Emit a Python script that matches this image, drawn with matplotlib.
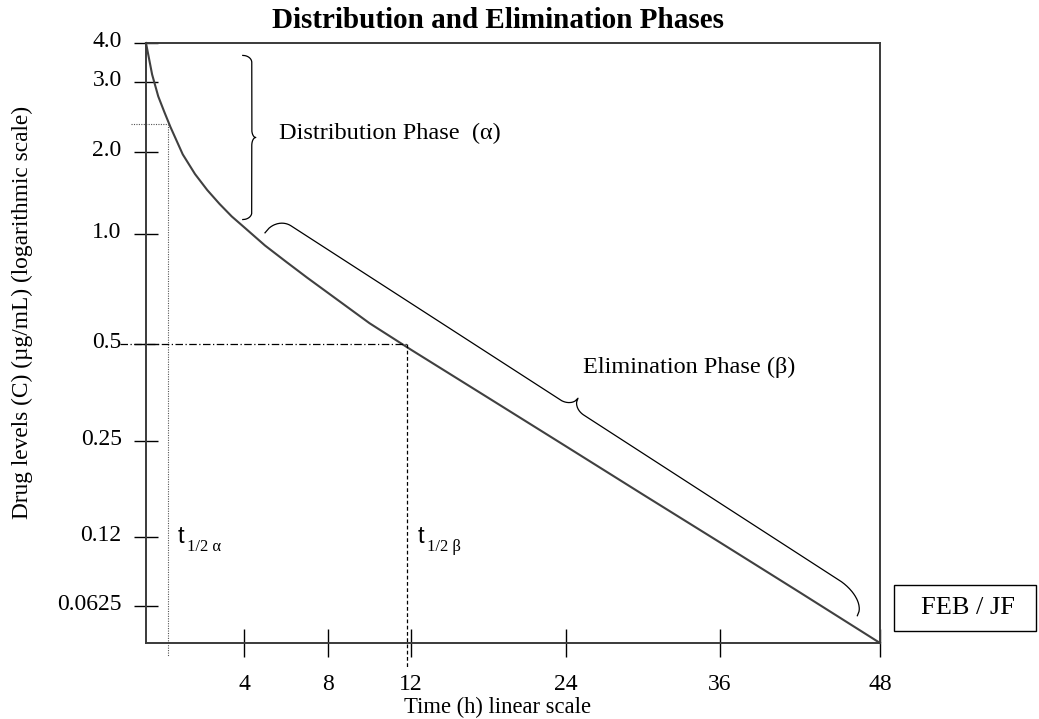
import numpy as np
import matplotlib
matplotlib.use("Agg")
import matplotlib.pyplot as plt
from matplotlib.lines import Line2D
from matplotlib.patches import Rectangle
from matplotlib.transforms import ScaledTranslation

# --- data ---
time_h = [0, 0.25, 0.5, 0.75, 1, 1.5, 2, 2.5, 3, 3.5, 4, 5, 6, 7, 8, 10, 12,
          18, 24, 30, 36, 42, 48]
conc = [4.0, 3.17, 2.76, 2.52, 2.31, 1.96, 1.66, 1.45, 1.29, 1.16, 1.06, 0.93,
        0.84, 0.76, 0.69, 0.57, 0.48, 0.34, 0.24, 0.166, 0.114, 0.071, 0.044]

x_ticks = [4, 8, 12, 24, 36, 48]
x_tick_labels = ["4", "8", "12", "24", "36", "48"]
y_ticks = [4.0, 3.0, 2.0, 1.0, 0.5, 0.25, 0.12, 0.0625]
y_tick_labels = ["4.0", "3.0", "2.0", "1.0", "0.5", "0.25", "0.12", "0.0625"]

t_half_alpha, c_half_alpha = 0.9, 2.35
t_half_beta, c_half_beta = 11.8, 0.5

# the hand drawn axes are not evenly spaced -> piecewise scales (value -> pixel)
X_KNOT_T = [-4, 0, 4, 8, 12, 24, 36, 48, 52]
X_KNOT_PX = [48, 146, 244, 328, 411, 566, 720, 880, 933]
Y_KNOT_C = [0.02, 0.044, 0.0625, 0.12, 0.25, 0.5, 1.0, 2.0, 3.0, 4.0, 6.0]
Y_KNOT_PX = [726, 643, 606, 537, 441, 344, 234, 152, 82, 43, -12]

LOG_C = np.log2(Y_KNOT_C)
NEG_PX = -np.array(Y_KNOT_PX, float)


def fwd_x(t):
    return np.interp(t, X_KNOT_T, X_KNOT_PX)


def inv_x(p):
    return np.interp(p, X_KNOT_PX, X_KNOT_T)


def fwd_y(c):
    c = np.clip(np.asarray(c, float), 1e-9, None)
    return np.interp(np.log2(c), LOG_C, NEG_PX)


def inv_y(p):
    return 2.0 ** np.interp(p, NEG_PX, LOG_C)


W, H = 1039, 719
plt.rcParams['font.family'] = ['Liberation Serif', 'DejaVu Serif']
plt.rcParams['font.size'] = 16

fig = plt.figure(figsize=(W / 100, H / 100), dpi=100, facecolor='white')


def fx(x):
    return x / W


def fy(y):
    return 1 - y / H


ax = fig.add_axes([fx(146), fy(643), (880 - 146) / W, (643 - 43) / H])
ax.set_xscale('function', functions=(fwd_x, inv_x))
ax.set_yscale('function', functions=(fwd_y, inv_y))
ax.set_xlim(0, 48)
ax.set_ylim(0.044, 4.0)

ax.set_xticks(x_ticks)
ax.set_xticklabels(x_tick_labels)
ax.set_yticks(y_ticks)
ax.set_yticklabels(y_tick_labels)
ax.minorticks_off()
ax.tick_params(axis='y', direction='inout', length=17, width=1.0, pad=9, labelsize=17)
ax.tick_params(axis='x', direction='inout', length=20, width=1.0, pad=12, labelsize=17)
for lab in ax.get_yticklabels():
    lab.set_transform(lab.get_transform() + ScaledTranslation(0, 4 / 100, fig.dpi_scale_trans))

for side in ['left', 'right', 'top', 'bottom']:
    ax.spines[side].set_linewidth(1.4)
    ax.spines[side].set_color('#3a3a3a')

# concentration curve
ax.plot(time_h, conc, color='#404040', lw=1.5, clip_on=False)

# half-life guides
ax.plot([-0.61, t_half_alpha], [c_half_alpha, c_half_alpha], color='#555555',
        lw=0.8, ls=(0, (1, 1.2)), clip_on=False)
ax.plot([t_half_alpha, t_half_alpha], [c_half_alpha, 0.039], color='#555555',
        lw=0.8, ls=(0, (1, 1.2)), clip_on=False)
ax.plot([-1.06, t_half_beta], [c_half_beta, c_half_beta], color='black',
        lw=0.9, ls=(0, (6, 2, 1, 2)), clip_on=False)
ax.plot([t_half_beta, t_half_beta], [c_half_beta, 0.035], color='black',
        lw=0.9, ls=(0, (3, 2)), clip_on=False)


def brace(p0, p1, body, tip, r0, r1, tip_r, n=801):
    # curly brace between two data points, widths in pixels
    p0 = ax.transData.transform(p0)
    p1 = ax.transData.transform(p1)
    d = p1 - p0
    L = np.hypot(*d)
    u = d / L
    nrm = np.array([-u[1], u[0]])
    s = np.linspace(0, L, n)
    h = np.full_like(s, float(body))
    a = s < r0
    h[a] = body * np.sqrt(1 - (1 - s[a] / r0) ** 2)
    b = (L - s) < r1
    h[b] = body * np.sqrt(1 - (1 - (L - s[b]) / r1) ** 2)
    m = np.abs(s - L / 2)
    k = m < tip_r
    v = (tip_r - m[k]) / tip_r
    h[k] = body + (tip - body) * (1 - np.sqrt(1 - v ** 2))
    pts = p0 + np.outer(s, u) + np.outer(h, nrm)
    pts = fig.transFigure.inverted().transform(pts)
    fig.add_artist(Line2D(pts[:, 0], pts[:, 1], color='black', lw=0.9,
                          transform=fig.transFigure))


brace((3.95, 3.65), (3.95, 1.13), 9, 13, 7, 7, 8)
brace((5.0, 1.01), (46.3, 0.057), 20, 31, 18, 35, 14)

# labels
fig.text(fx(279), fy(133), "Distribution Phase  (\u03b1)", fontsize=17.5, va='center', ha='left')
fig.text(fx(583), fy(367), "Elimination Phase (\u03b2)", fontsize=17.5, va='center', ha='left')
fig.text(fx(178), fy(543), "t", fontsize=17, family=['Liberation Sans', 'DejaVu Sans'],
         va='baseline', ha='left')
fig.text(fx(187), fy(551), "1/2 \u03b1", fontsize=12, va='baseline', ha='left')
fig.text(fx(418), fy(543), "t", fontsize=17, family=['Liberation Sans', 'DejaVu Sans'],
         va='baseline', ha='left')
fig.text(fx(427), fy(551), "1/2 \u03b2", fontsize=12, va='baseline', ha='left')

fig.text(fx(498), fy(28), "Distribution and Elimination Phases", fontsize=21,
         fontweight='bold', ha='center', va='baseline')
fig.text(fx(498), fy(713), "Time (h) linear scale", fontsize=16.3, ha='center', va='baseline')
fig.text(fx(22), fy(312), "Drug levels (C) (\u00b5g/mL) (logarithmic scale)", fontsize=16.8,
         rotation=90, ha='center', va='center')

fig.add_artist(Rectangle((fx(894), fy(631)), (1036 - 894) / W, (631 - 585) / H,
                         fill=False, edgecolor='black', lw=1.0, transform=fig.transFigure))
fig.text(fx(968), fy(608), "FEB / JF", fontsize=19, ha='center', va='center')

fig.savefig('out.png', dpi=100, facecolor='white')
